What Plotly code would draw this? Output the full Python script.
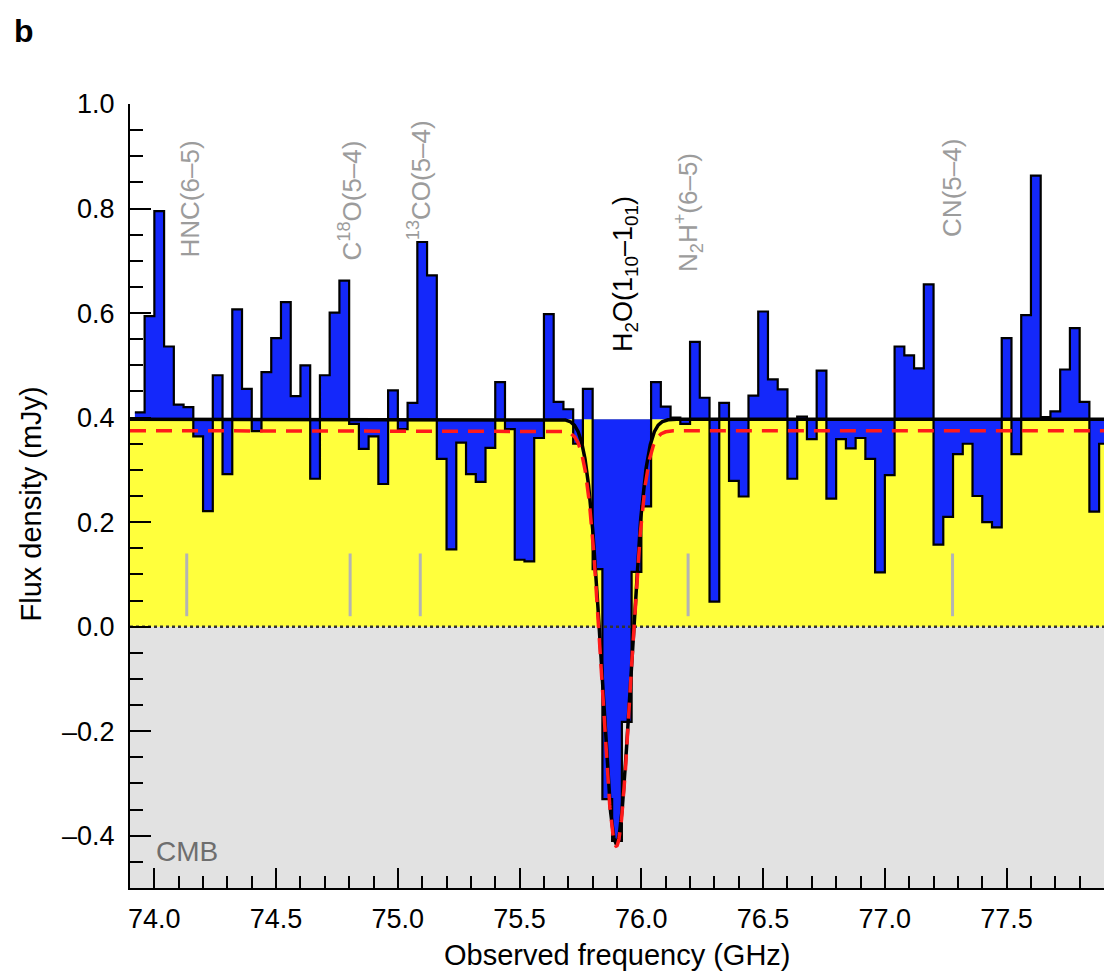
import numpy as np
import plotly.graph_objects as go

# ---------------- data ----------------
channel_start_ghz = 73.92
channel_width_ghz = 0.04
flux_mjy = [
    0.41, 0.594, 0.795, 0.536, 0.425, 0.42, 0.364, 0.221, 0.481, 0.292,
    0.607, 0.455, 0.374, 0.487, 0.552, 0.621, 0.441, 0.50, 0.283, 0.481,
    0.601, 0.662, 0.388, 0.340, 0.364, 0.273, 0.452, 0.378, 0.428, 0.736,
    0.672, 0.321, 0.148, 0.352, 0.292, 0.277, 0.342, 0.468, 0.378, 0.128,
    0.125, 0.361, 0.598, 0.430, 0.416, 0.350, 0.455, 0.110, -0.33, -0.41,
    -0.182, 0.105, 0.23, 0.468, 0.421, 0.40, 0.388, 0.545, 0.438, 0.048,
    0.428, 0.279, 0.249, 0.442, 0.603, 0.473, 0.454, 0.283, 0.402, 0.359,
    0.49, 0.245, 0.359, 0.341, 0.361, 0.321, 0.104, 0.29, 0.536, 0.519,
    0.494, 0.655, 0.157, 0.21, 0.33, 0.35, 0.25, 0.20, 0.19, 0.552,
    0.33, 0.596, 0.863, 0.401, 0.412, 0.492, 0.571, 0.43, 0.22, 0.35,
]

# absorption model (Gaussian line on a continuum)
continuum_mjy = 0.397
model_center_ghz = 75.897
model_sigma_ghz = 0.059
model_min_mjy = -0.415
alt_continuum_mjy = 0.375
alt_min_mjy = -0.42

line_labels = ["HNC(6–5)", "C<sup>18</sup>O(5–4)", "<sup>13</sup>CO(5–4)",
               "N<sub>2</sub>H<sup>+</sup>(6–5)", "CN(5–4)"]
line_freqs_ghz = [74.133, 74.804, 75.092, 76.192, 77.278]
water_label = "H<sub>2</sub>O(1<sub>10</sub>–1<sub>01</sub>)"
water_freq_ghz = 75.897

x_tick_vals = [74.0, 74.5, 75.0, 75.5, 76.0, 76.5, 77.0, 77.5]
x_tick_text = ["74.0", "74.5", "75.0", "75.5", "76.0", "76.5", "77.0", "77.5"]
y_tick_vals = [-0.4, -0.2, 0.0, 0.2, 0.4, 0.6, 0.8, 1.0]
y_tick_text = ["–0.4", "–0.2", "0.0", "0.2", "0.4", "0.6", "0.8", "1.0"]

# ---------------- layout constants ----------------
x_range = [73.9, 77.9]
y_range = [-0.5, 1.0]
label_bottoms = [0.703, 0.697, 0.736, 0.674, 0.741]
label_x_shift_px = [3, 0, 0, 0, 0]
water_label_bottom = 0.522
water_label_shift_px = 9
marker_y = [0.02, 0.14]

BLUE = "#1428fa"
YELLOW = "#ffff3c"
GREY_BG = "#e2e2e2"
LABEL_GREY = "#9c9c9c"
FONT = "Liberation Sans, Arial, Helvetica, sans-serif"

fig = go.Figure()

# spectrum (step histogram filled relative to the continuum)
edges = channel_start_ghz + channel_width_ghz * np.arange(len(flux_mjy) + 1)
step_y = list(flux_mjy) + [flux_mjy[-1]]

fig.add_trace(go.Scatter(x=[edges[0], edges[-1]], y=[continuum_mjy, continuum_mjy],
                         mode="lines", line=dict(width=0, color="rgba(0,0,0,0)"),
                         hoverinfo="skip"))
fig.add_trace(go.Scatter(x=edges, y=step_y, mode="lines", line_shape="hv",
                         line=dict(color="black", width=2.2), fill="tonexty",
                         fillcolor=BLUE, hoverinfo="skip"))

# zero line
fig.add_trace(go.Scatter(x=x_range, y=[0, 0], mode="lines",
                         line=dict(color="#333333", width=2.5, dash="dot"),
                         hoverinfo="skip"))

# model curves
xm = np.linspace(x_range[0], x_range[1], 4001)
g = np.exp(-(xm - model_center_ghz) ** 2 / (2 * model_sigma_ghz ** 2))
black_model = continuum_mjy - (continuum_mjy - model_min_mjy) * g
red_model = alt_continuum_mjy - (alt_continuum_mjy - alt_min_mjy) * g
fig.add_trace(go.Scatter(x=xm, y=black_model, mode="lines",
                         line=dict(color="black", width=3.5), hoverinfo="skip"))
fig.add_trace(go.Scatter(x=xm, y=red_model, mode="lines",
                         line=dict(color="#ff1a1a", width=3.5, dash="16px,10px"),
                         hoverinfo="skip"))

# line markers
mx, my = [], []
for f in line_freqs_ghz:
    mx += [f, f, None]
    my += [marker_y[0], marker_y[1], None]
fig.add_trace(go.Scatter(x=mx, y=my, mode="lines",
                         line=dict(color="#b4b4b4", width=3), hoverinfo="skip"))

shapes = [
    dict(type="rect", xref="paper", yref="y", x0=0, x1=1, y0=y_range[0], y1=0,
         fillcolor=GREY_BG, line=dict(width=0), layer="below"),
    dict(type="rect", xref="paper", yref="y", x0=0, x1=1, y0=0, y1=continuum_mjy,
         fillcolor=YELLOW, line=dict(width=0), layer="below"),
]

annotations = []
for txt, f, yb, sh in zip(line_labels, line_freqs_ghz, label_bottoms, label_x_shift_px):
    annotations.append(dict(x=f, y=yb, xref="x", yref="y", text=txt, textangle=-90,
                            showarrow=False, xanchor="center", yanchor="bottom",
                            xshift=sh,
                            font=dict(size=26, color=LABEL_GREY, family=FONT)))
annotations.append(dict(x=water_freq_ghz, y=water_label_bottom, xref="x", yref="y",
                        text=water_label, textangle=-90, showarrow=False,
                        xanchor="center", yanchor="bottom", xshift=water_label_shift_px,
                        font=dict(size=27, color="black", family=FONT)))
annotations.append(dict(x=0.025, y=-0.43, xref="paper", yref="y", text="CMB",
                        showarrow=False, xanchor="left", yanchor="middle",
                        font=dict(size=28, color="#6e6e6e", family=FONT)))
annotations.append(dict(x=-0.121, y=1.118, xref="paper", yref="paper", text="<b>b</b>",
                        showarrow=False, xanchor="left", yanchor="top",
                        font=dict(size=32, color="black", family=FONT)))
annotations.append(dict(x=0.5, y=-0.0855, xref="paper", yref="paper",
                        text="Observed frequency (GHz)", showarrow=False,
                        xanchor="center", yanchor="middle",
                        font=dict(size=29, color="black", family=FONT)))
annotations.append(dict(x=-0.102, y=0.49, xref="paper", yref="paper",
                        text="Flux density (mJy)", textangle=-90, showarrow=False,
                        xanchor="center", yanchor="middle",
                        font=dict(size=29, color="black", family=FONT)))

fig.update_layout(
    width=1106, height=972, autosize=False,
    margin=dict(l=130, r=2, t=104, b=84),
    paper_bgcolor="white", plot_bgcolor="white",
    showlegend=False, shapes=shapes, annotations=annotations,
    font=dict(family=FONT, color="black"),
    xaxis=dict(range=x_range, showgrid=False, zeroline=False, showline=True,
               linecolor="black", linewidth=2, ticks="inside", ticklen=20,
               tickwidth=2, tickcolor="black", tickmode="array",
               tickvals=x_tick_vals, ticktext=x_tick_text,
               tickfont=dict(size=27, family=FONT, color="black"),
               ticklabelstandoff=6,
               minor=dict(ticks="inside", ticklen=12, tickwidth=2, tickcolor="black",
                          dtick=0.1, tick0=74.0)),
    yaxis=dict(range=y_range, showgrid=False, zeroline=False, showline=True,
               linecolor="black", linewidth=2, ticks="inside", ticklen=21,
               tickwidth=2, tickcolor="black", tickmode="array",
               tickvals=y_tick_vals, ticktext=y_tick_text,
               tickfont=dict(size=27, family=FONT, color="black"),
               ticklabelstandoff=8,
               minor=dict(ticks="inside", ticklen=13, tickwidth=2, tickcolor="black",
                          dtick=0.05, tick0=0.0)),
)

fig.write_html("out.html")
